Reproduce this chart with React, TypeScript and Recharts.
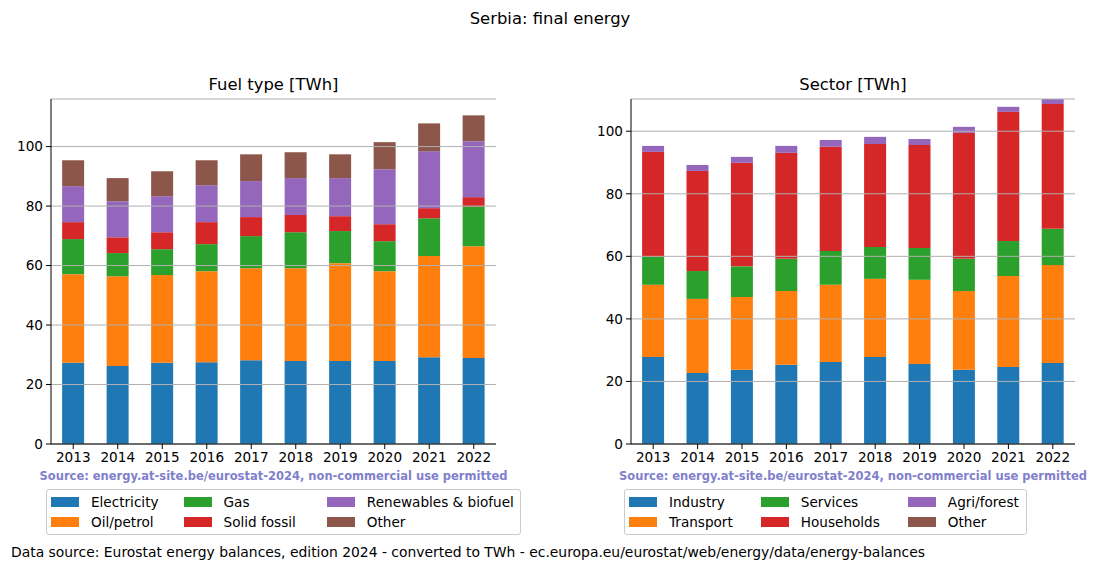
import { BarChart, Bar, XAxis, YAxis, CartesianGrid } from 'recharts';

const years = ['2013', '2014', '2015', '2016', '2017', '2018', '2019', '2020', '2021', '2022'];

// fuel type [TWh]
const electricity = [27.3, 26.2, 27.3, 27.5, 28.2, 27.9, 27.9, 27.9, 29.2, 28.9];
const oilPetrol = [29.8, 30.2, 29.5, 30.6, 30.9, 31.2, 32.9, 30.2, 34.0, 37.6];
const gas = [11.8, 7.8, 8.7, 9.1, 10.8, 12.1, 10.8, 10.1, 12.7, 13.3];
const solidFossil = [5.7, 5.3, 5.7, 7.4, 6.4, 5.8, 5.0, 5.7, 3.4, 3.2];
const renewables = [12.1, 12.1, 12.1, 12.4, 12.1, 12.4, 12.8, 18.5, 19.1, 18.8];
const fuelOther = [8.7, 7.8, 8.4, 8.4, 9.0, 8.7, 8.0, 9.1, 9.4, 8.7];

// sector [TWh]
const industry = [27.8, 22.7, 23.7, 25.3, 26.2, 27.8, 25.6, 23.7, 24.6, 25.9];
const transport = [23.1, 23.7, 23.3, 23.6, 24.7, 25.0, 26.9, 25.2, 29.1, 31.3];
const services = [9.0, 8.9, 9.8, 10.3, 10.8, 10.2, 10.2, 10.3, 11.2, 11.6];
const households = [33.5, 32.0, 33.1, 33.9, 33.3, 32.9, 32.9, 40.3, 41.3, 39.9];
const agriForest = [1.9, 1.9, 1.9, 2.2, 2.2, 2.3, 1.9, 1.9, 1.6, 2.0];
const sectorOther = [0, 0, 0, 0, 0, 0, 0, 0, 0, 0];

const yTicks = [0, 20, 40, 60, 80, 100];

const tab = ['#1f77b4', '#ff7f0e', '#2ca02c', '#d62728', '#9467bd', '#8c564b'];

const fuelSeries = [
  { key: 'Electricity', values: electricity },
  { key: 'Oil/petrol', values: oilPetrol },
  { key: 'Gas', values: gas },
  { key: 'Solid fossil', values: solidFossil },
  { key: 'Renewables & biofuel', values: renewables },
  { key: 'Other', values: fuelOther },
];

const sectorSeries = [
  { key: 'Industry', values: industry },
  { key: 'Transport', values: transport },
  { key: 'Services', values: services },
  { key: 'Households', values: households },
  { key: 'Agri/forest', values: agriForest },
  { key: 'Other', values: sectorOther },
];

const FONT = '"DejaVu Sans", sans-serif';

function toRows(series: { key: string; values: number[] }[]) {
  return years.map((y, i) => {
    const row: Record<string, string | number> = { year: y };
    series.forEach((s) => (row[s.key] = s.values[i]));
    return row;
  });
}

function StackPanel({ series, yMax, left, right }: { series: { key: string; values: number[] }[]; yMax: number; left: number; right: number }) {
  const tick = { fontSize: 13.6, fill: '#000', fontFamily: FONT };
  return (
    <div style={{ position: 'absolute', left, top: 0 }}>
      <BarChart width={520} height={480} data={toRows(series)} margin={{ top: 99, right, bottom: 6, left: 0 }} barCategoryGap="25%">
        {series.map((s, i) => (
          <Bar key={s.key} dataKey={s.key} stackId="a" fill={tab[i]} isAnimationActive={false} />
        ))}
        <CartesianGrid vertical={false} stroke="#b0b0b0" strokeWidth={1} zIndex={350} />
        <XAxis dataKey="year" height={30} tick={tick} tickSize={5} tickMargin={3} axisLine={{ stroke: '#000' }} tickLine={{ stroke: '#000' }} interval={0} />
        <XAxis xAxisId="top" dataKey="year" orientation="top" height={0} tick={false} tickLine={false} axisLine={{ stroke: '#000' }} />
        <YAxis domain={[0, yMax]} ticks={yTicks} allowDataOverflow width={51} tick={tick} tickSize={5} tickMargin={3} axisLine={{ stroke: '#000' }} tickLine={{ stroke: '#000' }} />
        <YAxis yAxisId="right" orientation="right" width={0} tick={false} tickLine={false} axisLine={{ stroke: '#000' }} />
      </BarChart>
    </div>
  );
}

function LegendBox({ series, left, width, gaps }: { series: { key: string }[]; left: number; width: number; gaps: number[] }) {
  const cols = [series.slice(0, 2), series.slice(2, 4), series.slice(4, 6)];
  return (
    <div
      style={{
        position: 'absolute', left, top: 489, width, height: 46, boxSizing: 'border-box',
        border: '1px solid #cccccc', borderRadius: 3, display: 'flex',
        padding: '2px 4px', fontFamily: FONT, fontSize: 13.6,
      }}
    >
      {cols.map((col, c) => (
        <div key={c} style={{ display: 'flex', flexDirection: 'column', marginRight: gaps[c] ?? 0 }}>
          {col.map((s) => {
            const idx = series.indexOf(s);
            return (
              <div key={s.key} style={{ display: 'flex', alignItems: 'center', height: 21 }}>
                <span style={{ width: 28, height: 10, background: tab[idx], marginRight: 12, display: 'inline-block' }} />
                <span style={{ whiteSpace: 'nowrap' }}>{s.key}</span>
              </div>
            );
          })}
        </div>
      ))}
    </div>
  );
}

const text = (x: number, y: number, size: number, extra: Record<string, string | number> = {}) => ({
  position: 'absolute' as const, left: x, top: y, fontFamily: FONT, fontSize: size, whiteSpace: 'nowrap' as const, lineHeight: 1, ...extra,
});

export default function App() {
  return (
    <div style={{ position: 'absolute', left: 0, top: 0, width: 1100, height: 572, background: '#fff', overflow: 'hidden' }}>
      <div style={text(550, 11, 16.4, { transform: 'translateX(-50%)' })}>Serbia: final energy</div>
      <div style={text(273.5, 77, 16.4, { transform: 'translateX(-50%)' })}>Fuel type [TWh]</div>
      <div style={text(853, 77, 16.4, { transform: 'translateX(-50%)' })}>Sector [TWh]</div>

      <StackPanel series={fuelSeries} yMax={116} left={0} right={24} />
      <StackPanel series={sectorSeries} yMax={110.3} left={580} right={25} />

      <div style={text(273.5, 471, 11.5, { transform: 'translateX(-50%)', fontWeight: 'bold', color: '#8080cc' })}>
        Source: energy.at-site.be/eurostat-2024, non-commercial use permitted
      </div>
      <div style={text(853, 471, 11.5, { transform: 'translateX(-50%)', fontWeight: 'bold', color: '#8080cc' })}>
        Source: energy.at-site.be/eurostat-2024, non-commercial use permitted
      </div>

      <LegendBox series={fuelSeries} left={46} width={475} gaps={[25, 31]} />
      <LegendBox series={sectorSeries} left={624} width={403} gaps={[28, 28]} />

      <div style={text(11, 546, 13.9)}>
        Data source: Eurostat energy balances, edition 2024 - converted to TWh - ec.europa.eu/eurostat/web/energy/data/energy-balances
      </div>
    </div>
  );
}
